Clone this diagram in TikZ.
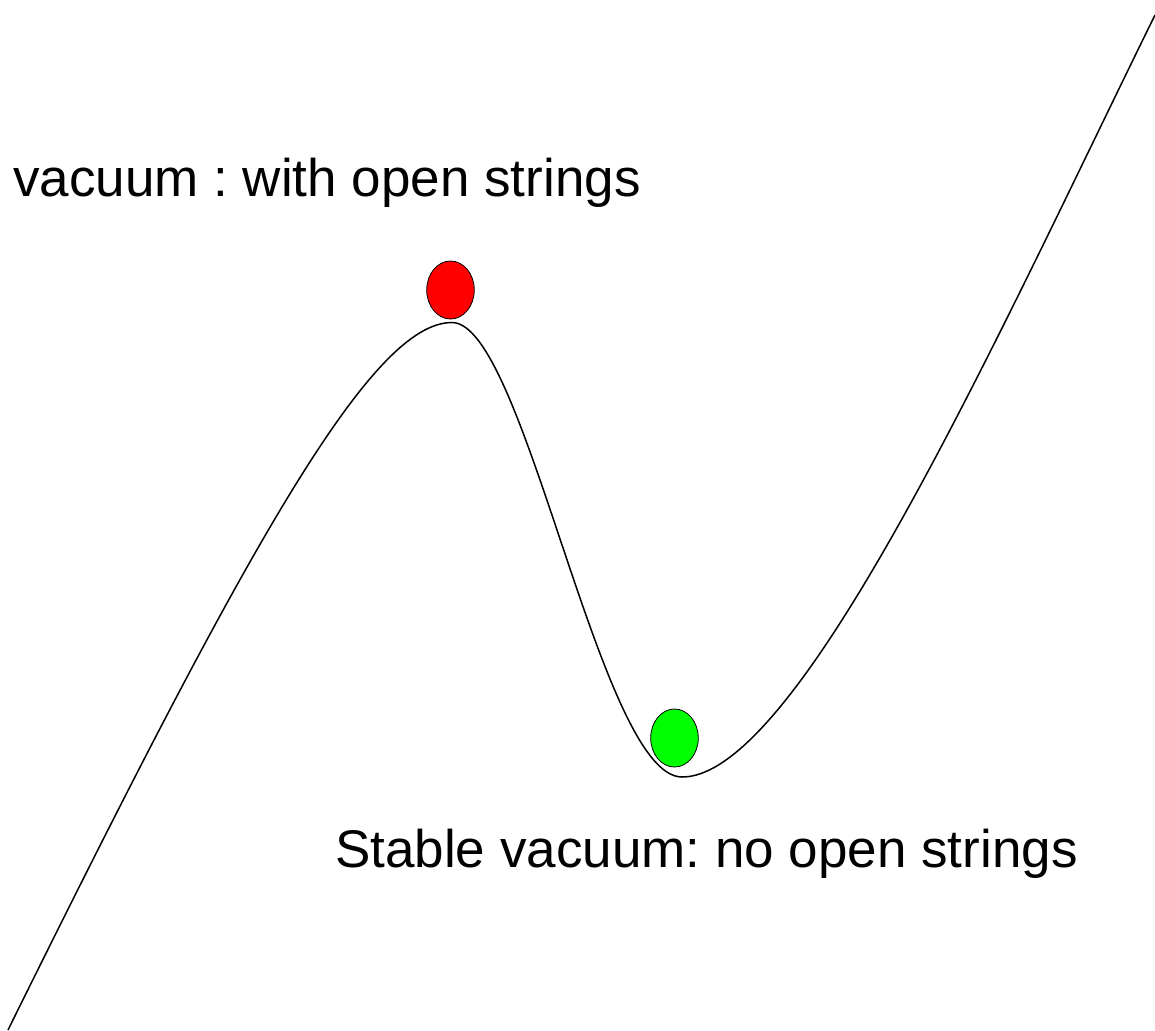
\documentclass[tikz,border=0pt]{standalone}
\usepackage{fontspec}
\setmainfont{Liberation Sans}
\usetikzlibrary{shapes.geometric}
\frenchspacing
\begin{document}
\begin{tikzpicture}[x=1pt,y=-1pt,
  lbl/.style={anchor=base west,inner sep=0pt,font=\fontsize{53}{60}\selectfont},
  ball/.style={ellipse,draw=black,line width=0.8pt,minimum width=47.6pt,minimum height=58pt,inner sep=0pt},
  curve/.style={line width=1.5pt}]
\useasboundingbox (0,0) rectangle (1155,1030);
\coordinate (start) at (8,1030);
\coordinate (peak) at (452,322.5);
\coordinate (valley) at (682,777);
\coordinate (end) at (1155,15);
\draw[curve] (start) .. controls (250,540) and (372,322.5) .. (peak)
  .. controls (525,322.5) and (600,777) .. (valley)
  .. controls (800,777) and (1000,330) .. (end);
\node[ball,fill=red] (red) at (450.5,290) {};
\node[ball,fill={rgb,255:red,0;green,255;blue,0}] (green) at (674.5,738) {};
\node[lbl] (top) at (13,196) {vacuum : with open strings};
\node[lbl] (bot) at (335,867) {Stable vacuum: no open strings};
\end{tikzpicture}
\end{document}
